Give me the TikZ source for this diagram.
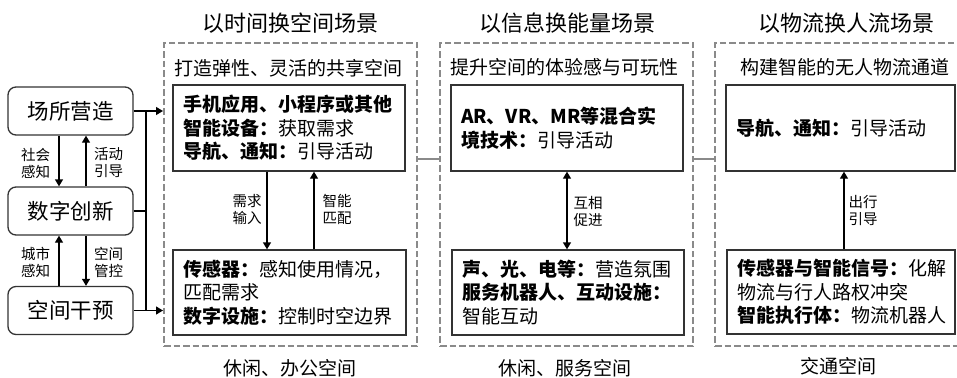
\documentclass[tikz,border=0pt]{standalone}
\usepackage{fontspec}
\setmainfont{Noto Sans CJK SC}
\usetikzlibrary{arrows.meta,calc}
\definecolor{dgray}{HTML}{8A8A8A}
\definecolor{igray}{HTML}{333333}
\newcommand\fsz[2]{\fontsize{#1bp}{#2bp}\selectfont}
\begin{document}
\begin{tikzpicture}[x=1bp,y=-1bp,
  dbox/.style={draw=dgray, line width=2bp, dash pattern=on 6.5bp off 3bp, minimum width=253bp, minimum height=303bp, inner sep=0pt},
  ibox/.style={draw=igray, line width=1.3bp, inner xsep=10bp, inner ysep=0pt, minimum height=86bp, align=left, font=\fsz{19}{23.5}},
  lbox/.style={draw=igray, line width=1.3bp, rounded corners=8bp, minimum width=125bp, minimum height=48bp, inner sep=0pt, font=\fsz{21.5}{26}},
  ttl/.style={font=\fsz{22}{26}, inner sep=0pt},
  sub/.style={font=\fsz{19}{23}, inner sep=0pt},
  lab/.style={font=\fsz{14.5}{17}, align=center, inner sep=0pt},
  arr/.style={draw=black, line width=1.3bp, -{Triangle[length=7bp,width=8bp]}},
  darr/.style={draw=black, line width=1.3bp, {Triangle[length=7bp,width=8bp]}-{Triangle[length=7bp,width=8bp]}},
  ln/.style={draw=black, line width=1.3bp},
  gln/.style={draw=dgray, line width=2bp}]
\useasboundingbox (0,0) rectangle (957,377);
% left column
\node[lbox] (A) at (70.5,111) {场所营造};
\node[lbox] (B) at (70.5,211) {数字创新};
\node[lbox] (C) at (70.5,310.5) {空间干预};
\coordinate (xl) at (59,0);
\coordinate (xr) at (86,0);
\draw[arr] (A.south -| xl) -- (B.north -| xl);
\draw[arr] (B.north -| xr) -- (A.south -| xr);
\draw[arr] (C.north -| xl) -- (B.south -| xl);
\draw[arr] (B.south -| xr) -- (C.north -| xr);
\node[lab] (l1) at (35.5,163) {社会\\感知};
\node[lab] (l2) at (108.5,163) {活动\\引导};
\node[lab] (l3) at (35.5,262) {城市\\感知};
\node[lab] (l4) at (108.5,262) {空间\\管控};
% dashed groups
\node[dbox] (D1) at (290.5,194.5) {};
\node[dbox] (D2) at (566.5,194.5) {};
\node[dbox] (D3) at (841.5,194.5) {};
% bus
\coordinate (bus) at (146,211);
\draw[ln] (A.east) -- (A.east -| bus) -- (C.east -| bus) -- (C.east);
\draw[ln] (B.east) -- (bus);
\draw[arr] (A.east -| bus) -- (A.east -| D1.west);
\draw[arr] (C.east -| bus) -- (C.east -| D1.west);
% group connectors
\coordinate (cy) at (0,159);
\draw[gln] (D1.east |- cy) -- (D2.west |- cy);
\draw[gln] (D2.east |- cy) -- (D3.west |- cy);
% titles
\node[ttl] (T1) at (290,23) {以时间换空间场景};
\node[ttl] (T2) at (567,23) {以信息换能量场景};
\node[ttl] (T3) at (846,23) {以物流换人流场景};
\node[sub] (S1) at (288.5,68) {打造弹性、灵活的共享空间};
\node[sub] (S2) at (564,67) {提升空间的体验感与可玩性};
\node[sub] (S3) at (845,67) {构建智能的无人物流通道};
\node[sub] (F1) at (290,368) {休闲、办公空间};
\node[sub] (F2) at (565,368) {休闲、服务空间};
\node[sub] (F3) at (838,366) {交通空间};
% inner boxes
\node[ibox, text width=212bp] (t1) at (289,128) {\textbf{手机应用、小程序或其他}\\\textbf{智能设备：}获取需求\\\textbf{导航、通知：}引导活动};
\node[ibox, text width=213bp, minimum height=85bp] (b1) at (289.5,292.5) {\textbf{传感器：}感知使用情况，\\匹配需求\\\textbf{数字设施：}控制时空边界};
\node[ibox, text width=212bp] (t2) at (567,128) {\textbf{AR、VR、MR等混合实}\\\textbf{境技术：}引导活动};
\node[ibox, text width=212bp, minimum height=85bp] (b2) at (568,292.5) {\textbf{声、光、电等：}营造氛围\\\textbf{服务机器人、互动设施：}\\智能互动};
\node[ibox, text width=209bp] (t3) at (840.5,128) {\textbf{导航、通知：}引导活动};
\node[ibox, text width=208bp, minimum height=84bp] (b3) at (841,292) {\textbf{传感器与智能信号：}化解\\物流与行人路权冲突\\\textbf{智能执行体：}物流机器人};
% inner arrows
\coordinate (a1) at (267,0);
\coordinate (a2) at (314,0);
\coordinate (a3) at (567,0);
\coordinate (a4) at (844,0);
\draw[arr] (t1.south -| a1) -- (b1.north -| a1);
\draw[arr] (b1.north -| a2) -- (t1.south -| a2);
\draw[darr] (t2.south -| a3) -- (b2.north -| a3);
\draw[arr] (b3.north -| a4) -- (t3.south -| a4);
\node[lab] (m1) at (247,209) {需求\\输入};
\node[lab] (m2) at (337,209) {智能\\匹配};
\node[lab] (m3) at (588,211) {互相\\促进};
\node[lab] (m4) at (863,210) {出行\\引导};
\end{tikzpicture}
\end{document}
